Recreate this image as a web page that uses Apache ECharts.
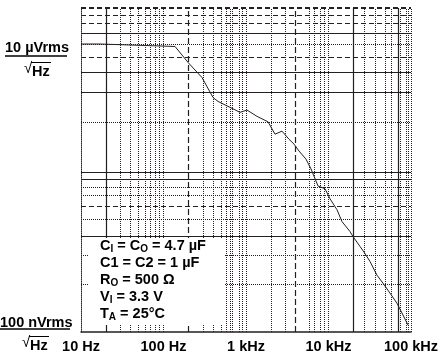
<!DOCTYPE html>
<html>
<head>
<meta charset="utf-8">
<script src="https://cdn.jsdelivr.net/npm/echarts@6/dist/echarts.min.js"></script>
<style>
  html, body { margin: 0; padding: 0; background: #fff; }
  #chart { width: 448px; height: 354px; }
</style>
</head>
<body>
<div id="chart"></div>
<script>
// noise spectral density (µVrms/√Hz) vs frequency (Hz)
const freq = [10, 17, 138, 198, 293, 398, 458, 640, 846, 1028, 1359, 1848, 2247, 2731, 3320, 3818, 4387,
  5333, 6135, 7463, 9075, 10430, 12680, 14580, 18230, 19820, 24100, 27680, 31840, 38710, 45800, 55620,
  67610, 79980, 92000];
const noise = [11.1, 11.1, 10.66, 8.22, 6.41, 4.63, 4.34, 3.94, 3.63, 3.77, 3.4, 3.11, 2.54, 2.67, 2.34,
  2.16, 1.93, 1.69, 1.44, 1.09, 1.04, 0.883, 0.738, 0.608, 0.517, 0.476, 0.405, 0.361, 0.317, 0.253,
  0.222, 0.189, 0.16, 0.132, 0.112];

const xTickLabels = { 10: '10 Hz', 100: '100 Hz', 1000: '1 kHz', 10000: '10 kHz', 100000: '100 kHz' };

// grid lines as they appear in the (scanned) original
const vSolid = [20, 20000, 70000];
const vDashed = [200, 4000];
const vDotted = [30, 40, 50, 60, 70, 80, 90, 100, 300, 400, 500, 570, 650, 690, 820, 890, 1000,
  2000, 3000, 5800, 6700, 8000, 8800, 10000, 27000, 37000, 49000, 57000, 75000, 87000, 92000, 100000];
const hSolid = [13.3, 6.95, 5.02, 1.37, 1.22, 0.484];
const hDashed = [20, 17.9, 15.7, 8.87, 0.776];
const hDotted = [11.1, 3.09, 1.07, 0.927, 0.628, 0.35, 0.218];

const ink = '#231f20';
const chart = echarts.init(document.getElementById('chart'));

const lines = [];
vSolid.forEach(v => lines.push({ xAxis: v, lineStyle: { type: 'solid', width: 1.2 } }));
vDashed.forEach(v => lines.push({ xAxis: v, lineStyle: { type: [6, 3], width: 1.2 } }));
vDotted.forEach(v => lines.push({ xAxis: v, lineStyle: { type: [1, 1], width: 1 } }));
hSolid.forEach(v => lines.push({ yAxis: v, lineStyle: { type: 'solid', width: 1.2 } }));
hDashed.forEach(v => lines.push({ yAxis: v, lineStyle: { type: [5, 3], width: v === 20 ? 2 : 1.2 } }));
hDotted.forEach(v => lines.push({ yAxis: v, lineStyle: { type: [1, 1], width: 1 } }));

const boldFont = 'Liberation Sans, Arial, sans-serif';

chart.setOption({
  animation: false,
  grid: { left: 81, right: 37, top: 8, bottom: 20 },
  xAxis: {
    type: 'log', min: 10, max: 100000, logBase: 10,
    axisLine: { show: true, lineStyle: { color: ink, width: 1.5 } },
    axisTick: { show: false },
    splitLine: { show: false },
    axisLabel: {
      color: '#000', fontWeight: 'bold', fontSize: 14.5, fontFamily: boldFont, margin: 7,
      formatter: v => xTickLabels[Math.round(v)] || ''
    }
  },
  yAxis: {
    type: 'log', min: 0.1, max: 20, logBase: 10,
    axisLine: { show: true, lineStyle: { color: ink, type: [1, 1], width: 1 } },
    axisTick: { show: false },
    axisLabel: { show: false },
    splitLine: { show: false }
  },
  series: [
    {
      type: 'line',
      data: freq.map((f, i) => [f, noise[i]]),
      symbol: 'none',
      z: 5,
      lineStyle: { color: ink, width: 1 },
      markLine: {
        silent: true,
        symbol: 'none',
        label: { show: false },
        lineStyle: { color: ink },
        data: lines
      }
    }
  ],
  graphic: [
    // condition box
    { type: 'rect', shape: { x: 89, y: 238, width: 136, height: 87 }, style: { fill: '#fff' }, z: 10 },
    {
      type: 'text', left: 100, top: 237, z: 11,
      style: {
        text: 'C{s|I} = C{s|O} = 4.7 µF\nC1 = C2 = 1 µF\nR{s|O} = 500 Ω\nV{s|I} = 3.3 V\nT{s|A} = 25°C',
        font: 'bold 14.5px ' + boldFont, fill: '#000', lineHeight: 17,
        rich: { s: { font: 'bold 10px ' + boldFont, fill: '#000', padding: [7, 0, 0, 0], verticalAlign: 'bottom' } }
      }
    },
    // y labels
    { type: 'text', left: 5, top: 40, style: { text: '10 µVrms', font: 'bold 14.5px ' + boldFont, fill: '#000' } },
    { type: 'line', shape: { x1: 5, y1: 56, x2: 67, y2: 56 }, style: { stroke: '#000', lineWidth: 1.5 } },
    { type: 'text', left: 24, top: 61, style: { text: '√', font: '15px ' + boldFont, fill: '#000' } },
    { type: 'line', shape: { x1: 31, y1: 62.5, x2: 51, y2: 62.5 }, style: { stroke: '#000', lineWidth: 1 } },
    { type: 'text', left: 32, top: 64, style: { text: 'Hz', font: 'bold 14.5px ' + boldFont, fill: '#000' } },

    { type: 'text', left: 0, top: 315, style: { text: '100 nVrms', font: 'bold 14.5px ' + boldFont, fill: '#000' } },
    { type: 'line', shape: { x1: 0, y1: 329, x2: 70, y2: 329 }, style: { stroke: '#000', lineWidth: 1.5 } },
    { type: 'text', left: 22, top: 335, style: { text: '√', font: '15px ' + boldFont, fill: '#000' } },
    { type: 'line', shape: { x1: 29, y1: 336.5, x2: 49, y2: 336.5 }, style: { stroke: '#000', lineWidth: 1 } },
    { type: 'text', left: 30, top: 338, style: { text: 'Hz', font: 'bold 14.5px ' + boldFont, fill: '#000' } }
  ]
});
</script>
</body>
</html>
